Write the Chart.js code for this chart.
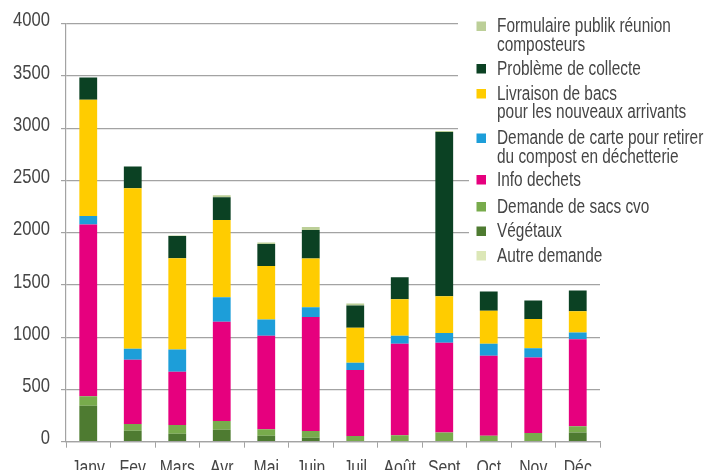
<!DOCTYPE html>
<html>
<head>
<meta charset="utf-8">
<script src="https://cdn.jsdelivr.net/npm/chart.js@4.4.1/dist/chart.umd.min.js"></script>
<style>
  html, body { margin: 0; padding: 0; background: #fff; overflow: hidden; }
  #wrap { width: 706px; height: 490px; position: relative; }
</style>
</head>
<body>
<div id="wrap"><canvas id="c" width="706" height="490"></canvas></div>
<script>
const months = ['Janv', 'Fev', 'Mars', 'Avr', 'Mai', 'Juin', 'Juil', 'Août', 'Sept', 'Oct', 'Nov', 'Déc'];
const yTicks = [0, 500, 1000, 1500, 2000, 2500, 3000, 3500, 4000];

const vegetaux    = [344, 105, 76, 115, 57, 38, 0, 0, 0, 0, 0, 89];
const sacsCvo     = [92, 64, 83, 82, 61, 64, 54, 61, 89, 57, 83, 58];
const infoDechets = [1641, 615, 510, 950, 895, 1092, 631, 875, 857, 765, 723, 834];
const carteCompost = [82, 105, 213, 235, 156, 93, 70, 77, 95, 114, 89, 64];
const livraisonBacs = [1112, 1535, 873, 739, 513, 465, 334, 350, 351, 316, 280, 203];
const problemeCollecte = [213, 210, 213, 217, 210, 274, 214, 210, 1570, 184, 175, 198];
const formulairePublik = [0, 0, 5, 19, 13, 28, 19, 0, 10, 0, 0, 0];
const autreDemande = [0, 0, 0, 0, 0, 0, 0, 0, 0, 0, 0, 0];

const seriesNames = {
  veg: 'Végétaux',
  cvo: 'Demande de sacs cvo',
  info: 'Info dechets',
  carte: 'Demande de carte pour retirer\ndu compost en déchetterie',
  livr: 'Livraison de bacs\npour les nouveaux arrivants',
  prob: 'Problème de collecte',
  form: 'Formulaire publik réunion\ncomposteurs',
  autre: 'Autre demande'
};
const seriesColors = {
  veg: '#4e7b31', cvo: '#78ab4c', info: '#e6007e', carte: '#1d9ed9',
  livr: '#ffcc00', prob: '#0b4123', form: '#bccf98', autre: '#dce7b7'
};

const FONT = "'Liberation Sans', Arial, sans-serif";
const TEXT = '#454545';
const GRID = '#a3a3a3';
const NARROW = 0.79;

function ds(key, data) {
  return { label: seriesNames[key], data: data, backgroundColor: seriesColors[key], stack: 's',
           barPercentage: 0.4, categoryPercentage: 1.0, borderWidth: 0 };
}

const datasets = [
  ds('veg', vegetaux), ds('cvo', sacsCvo), ds('info', infoDechets), ds('carte', carteCompost),
  ds('livr', livraisonBacs), ds('prob', problemeCollecte), ds('form', formulairePublik), ds('autre', autreDemande)
];

const legendOrder = ['form', 'prob', 'livr', 'carte', 'info', 'cvo', 'veg', 'autre'];
const legendY = [26.5, 69, 94, 138.5, 180, 207, 231.5, 256];

// condensed look for tick labels: every label is rotated (by 0) around its anchor, add a horizontal squeeze there
const narrowPlugin = {
  id: 'narrowText',
  afterInit(chart) {
    const ctx = chart.ctx;
    const orig = ctx.rotate;
    ctx.rotate = function (a) { orig.call(ctx, a); ctx.scale(NARROW, 1); };
  }
};

const legendPlugin = {
  id: 'overlayLegend',
  beforeDatasetsDraw(chart) {
    const ctx = chart.ctx;
    ctx.save();
    ctx.fillStyle = '#ffffff';
    ctx.fillRect(458, 0, 248, 160);
    ctx.fillRect(469, 160, 237, 112);
    ctx.restore();
  },
  afterDraw(chart) {
    const ctx = chart.ctx;
    ctx.save();
    ctx.textBaseline = 'middle';
    ctx.textAlign = 'left';
    legendOrder.forEach((k, i) => {
      const y = legendY[i];
      ctx.fillStyle = seriesColors[k];
      ctx.fillRect(476.5, y - 5, 9.5, 9.5);
      ctx.fillStyle = TEXT;
      seriesNames[k].split('\n').forEach((line, j) => {
        ctx.save();
        ctx.font = '20px ' + FONT;
        ctx.translate(497, y + j * 18.5);
        ctx.scale(0.77, 1);
        ctx.fillText(line, 0, 0);
        ctx.restore();
      });
    });
    ctx.restore();
  }
};

new Chart(document.getElementById('c'), {
  type: 'bar',
  data: { labels: months, datasets: datasets },
  plugins: [narrowPlugin, legendPlugin],
  options: {
    responsive: false,
    animation: false,
    layout: { padding: { left: 0, right: 106, top: 23, bottom: 0 } },
    plugins: { legend: { display: false }, tooltip: { enabled: false } },
    scales: {
      x: {
        stacked: true,
        offset: true,
        grid: { display: true, drawOnChartArea: false, drawTicks: true, tickLength: 6, color: GRID, offset: true },
        border: { display: true, color: GRID, width: 1.2 },
        ticks: { color: TEXT, font: { family: FONT, size: 20 }, padding: 9, maxRotation: 0, autoSkip: false },
        afterFit(s) { s.height = 48.3; }
      },
      y: {
        stacked: true,
        min: 0, max: 4000,
        afterBuildTicks(s) { s.ticks = yTicks.map(v => ({ value: v })); },
        grid: { color: GRID, lineWidth: 1.2, tickLength: 5, drawTicks: true },
        border: { display: true, color: GRID, width: 1.2 },
        ticks: { color: TEXT, font: { family: FONT, size: 21 }, padding: 11, labelOffset: -3, callback: v => String(v) },
        afterFit(s) { s.width = 66; }
      }
    }
  }
});
</script>
</body>
</html>
